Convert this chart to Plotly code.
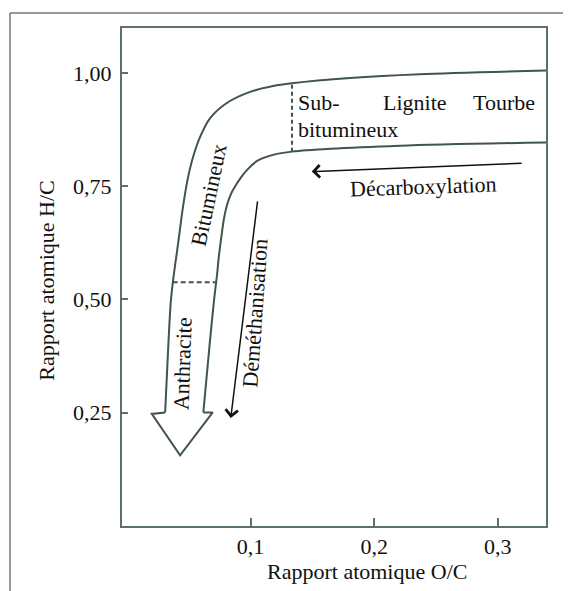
import plotly.graph_objects as go

# ---- data (O/C, H/C atomic ratios) ----
outer_oc = [0.339, 0.237, 0.1804, 0.1335, 0.1182, 0.0996, 0.0808, 0.0673, 0.0592,
            0.0535, 0.0495, 0.0466, 0.0442, 0.0418, 0.0390, 0.0369, 0.0353, 0.0333, 0.0309]
outer_hc = [1.005, 0.997, 0.9885, 0.977, 0.971, 0.958, 0.9335, 0.900, 0.8586,
            0.8145, 0.7705, 0.7264, 0.6824, 0.6317, 0.5767, 0.5326, 0.4885, 0.3894, 0.2507]

head_oc = [0.0309, 0.0201, 0.0430, 0.0694, 0.0618]
head_hc = [0.2507, 0.2474, 0.156, 0.2507, 0.2507]

inner_oc = [0.0618, 0.0665, 0.0705, 0.0729, 0.0745, 0.0766, 0.0786, 0.0810, 0.0842,
            0.0883, 0.0923, 0.0972, 0.1053, 0.1182, 0.1335, 0.2209, 0.339]
inner_hc = [0.2507, 0.3894, 0.4996, 0.5546, 0.5987, 0.6427, 0.6802, 0.7088, 0.7330,
            0.7529, 0.7694, 0.7859, 0.8057, 0.8190, 0.8262, 0.839, 0.8465]

sub_line_oc = [0.1335, 0.1335]
sub_line_hc = [0.826, 0.977]
anth_line_oc = [0.0370, 0.0725]
anth_line_hc = [0.5377, 0.5377]

x_ticks = [0.1, 0.2, 0.3]
y_ticks = [0.25, 0.50, 0.75, 1.00]

LINE = "#41544e"
AX = "#5d706a"
FONT = "Liberation Serif"

fig = go.Figure()
fig.add_trace(go.Scatter(x=outer_oc, y=outer_hc, mode="lines",
                         line=dict(color=LINE, width=2, shape="spline", smoothing=0.8)))
fig.add_trace(go.Scatter(x=head_oc, y=head_hc, mode="lines",
                         line=dict(color=LINE, width=2)))
fig.add_trace(go.Scatter(x=inner_oc, y=inner_hc, mode="lines",
                         line=dict(color=LINE, width=2, shape="spline", smoothing=0.8)))
fig.add_trace(go.Scatter(x=sub_line_oc, y=sub_line_hc, mode="lines",
                         line=dict(color=LINE, width=2, dash="4px,3px")))
fig.add_trace(go.Scatter(x=anth_line_oc, y=anth_line_hc, mode="lines",
                         line=dict(color=LINE, width=2, dash="5px,3px")))

tf = dict(family=FONT, size=22, color="#111")
ann = []
ann.append(dict(x=0.1368, y=0.9335, text="Sub-", xanchor="left", yanchor="middle"))
ann.append(dict(x=0.2334, y=0.9335, text="Lignite", xanchor="center", yanchor="middle"))
ann.append(dict(x=0.3316, y=0.9335, text="Tourbe", xanchor="right", yanchor="middle"))
ann.append(dict(x=0.1368, y=0.8747, text="bitumineux", xanchor="left", yanchor="middle"))
ann.append(dict(x=0.2403, y=0.750, text="Décarboxylation", textangle=-2,
                xanchor="center", yanchor="middle"))
ann.append(dict(x=0.066, y=0.7297, text="Bitumineux", textangle=-78,
                xanchor="center", yanchor="middle"))
ann.append(dict(x=0.045, y=0.3586, text="Anthracite", textangle=-88,
                xanchor="center", yanchor="middle"))
ann.append(dict(x=0.1036, y=0.4687, text="Déméthanisation", textangle=-86,
                xanchor="center", yanchor="middle"))
for a in ann:
    a.update(xref="x", yref="y", showarrow=False, font=tf)

# arrows
ann.append(dict(x=0.1495, y=0.7822, ax=0.3205, ay=0.8007, xref="x", yref="y",
                axref="x", ayref="y", showarrow=True, arrowhead=4, arrowsize=1.6,
                arrowwidth=1.5, arrowcolor="#111", text=""))
ann.append(dict(x=0.0840, y=0.2384, ax=0.1058, ay=0.7198, xref="x", yref="y",
                axref="x", ayref="y", showarrow=True, arrowhead=4, arrowsize=1.6,
                arrowwidth=1.5, arrowcolor="#111", text=""))

# axis titles
ann.append(dict(x=0.5778, y=-0.0923, xref="paper", yref="paper", showarrow=False,
                text="Rapport atomique O/C", font=tf, xanchor="center", yanchor="middle"))
ann.append(dict(x=-0.1769, y=0.4925, xref="paper", yref="paper", showarrow=False,
                text="Rapport atomique H/C", font=tf, textangle=-90,
                xanchor="center", yanchor="middle"))

shapes = [
    dict(type="line", xref="paper", yref="paper", x0=-0.2642, x1=1.07, y0=1.0301, y1=1.0301,
         line=dict(color="#777", width=1.5)),
    dict(type="line", xref="paper", yref="paper", x0=-0.2642, x1=-0.2642, y0=1.0301, y1=-0.16,
         line=dict(color="#777", width=1.5)),
]

fig.update_layout(
    width=563, height=583,
    margin=dict(l=114, r=25, t=20, b=64.5),
    paper_bgcolor="white", plot_bgcolor="white",
    showlegend=False,
    separators=", ",
    annotations=ann, shapes=shapes,
    font=dict(family=FONT, size=22, color="#111"),
)
fig.update_xaxes(range=[-0.004, 0.339], tickvals=x_ticks, tickformat=".1f",
                 ticks="inside", ticklen=8, tickwidth=1.5, tickcolor=AX,
                 showline=True, linecolor=AX, linewidth=2, mirror=True,
                 showgrid=False, zeroline=False, ticklabelstandoff=0,
                 tickfont=dict(family=FONT, size=22, color="#111"))
fig.update_yaxes(range=[0, 1.099], tickvals=y_ticks, tickformat=".2f",
                 ticks="inside", ticklen=6, tickwidth=1.5, tickcolor=AX,
                 showline=True, linecolor=AX, linewidth=2, mirror=True,
                 showgrid=False, zeroline=False, ticklabelstandoff=4,
                 tickfont=dict(family=FONT, size=22, color="#111"))

fig.write_html("out.html")
